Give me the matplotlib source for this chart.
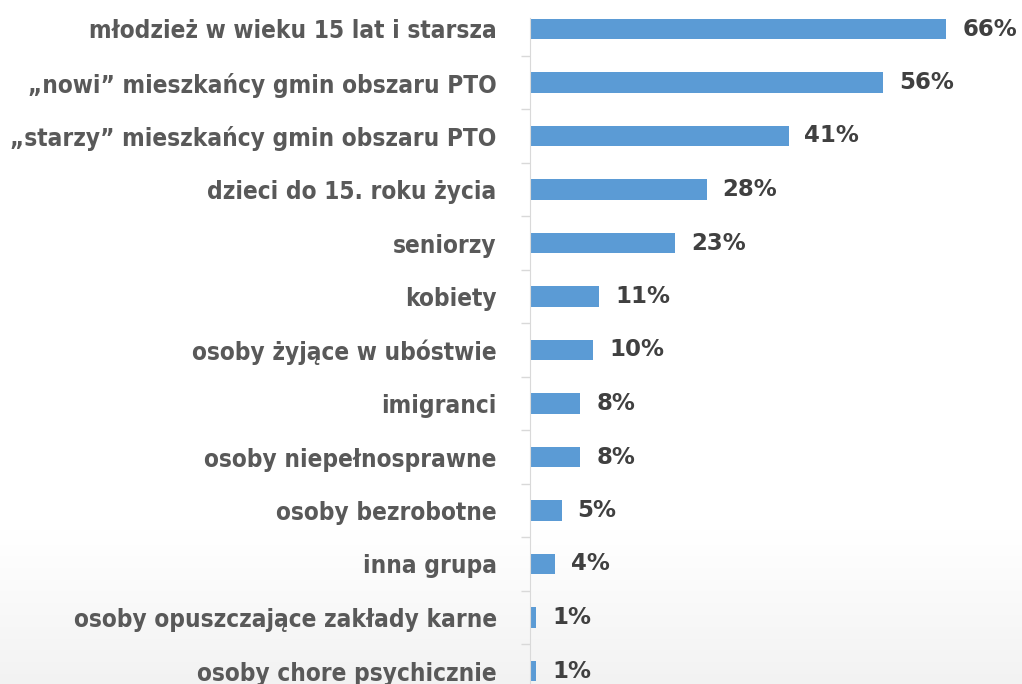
import matplotlib
matplotlib.use("Agg")
import matplotlib.pyplot as plt
import numpy as np

# ==============data===============
categories = [
    "młodzież w wieku 15 lat i starsza",
    "\u201enowi\u201d mieszkańcy gmin obszaru PTO",
    "\u201estarzy\u201d mieszkańcy gmin obszaru PTO",
    "dzieci do 15. roku życia",
    "seniorzy",
    "kobiety",
    "osoby żyjące w ubóstwie",
    "imigranci",
    "osoby niepełnosprawne",
    "osoby bezrobotne",
    "inna grupa",
    "osoby opuszczające zakłady karne",
    "osoby chore psychicznie",
]
values = [66, 56, 41, 28, 23, 11, 10, 8, 8, 5, 4, 1, 1]
value_labels = ["66%", "56%", "41%", "28%", "23%", "11%", "10%", "8%", "8%", "5%", "4%", "1%", "1%"]

bar_color = "#5b9bd5"
label_color = "#595959"
value_color = "#404040"

fig = plt.figure(figsize=(10.22, 6.84), dpi=100)

# faint background gradient: white, turning light gray near the bottom
bg = fig.add_axes([0, 0, 1, 1], zorder=-10)
t = np.linspace(0, 1, 256)
grad = np.where(t < 0.78, 1.0, 1.0 - 0.05 * (t - 0.78) / 0.22).reshape(-1, 1)
bg.imshow(np.dstack([grad, grad, grad]), aspect="auto", extent=[0, 1, 0, 1])
bg.axis("off")

ax = fig.add_axes([530 / 1022, 0, 1 - 530 / 1022, 1])
ax.patch.set_alpha(0)

y = np.arange(len(categories))
ax.barh(y, values, height=0.39, color=bar_color)

for yi, v, lab in zip(y, values, value_labels):
    ax.text(v + 2.5, yi, lab, va="center", ha="left", fontsize=16.5,
            fontweight="bold", color=value_color, family="DejaVu Sans")

ax.set_yticks(y)
ax.set_yticklabels(categories, fontsize=17.5, fontweight="bold", color=label_color,
                   family="DejaVu Sans", fontstretch="condensed")
ax.set_yticks(np.arange(len(categories)) + 0.5, minor=True)
ax.tick_params(axis="y", which="major", length=0, pad=24)
ax.tick_params(axis="y", which="minor", length=6.5, color="#d9d9d9", width=1)
ax.set_xticks([])

# row spacing ~53.5 px, first row centre at y=29 px
ax.set_ylim((684 - 29) / 53.5, -29 / 53.5)
ax.set_xlim(0, (1022 - 530) / 6.31)

for s in ["top", "right", "bottom"]:
    ax.spines[s].set_visible(False)
ax.spines["left"].set_color("#d9d9d9")
ax.spines["left"].set_bounds(-0.2, 13)

plt.savefig("out.png", dpi=100)
